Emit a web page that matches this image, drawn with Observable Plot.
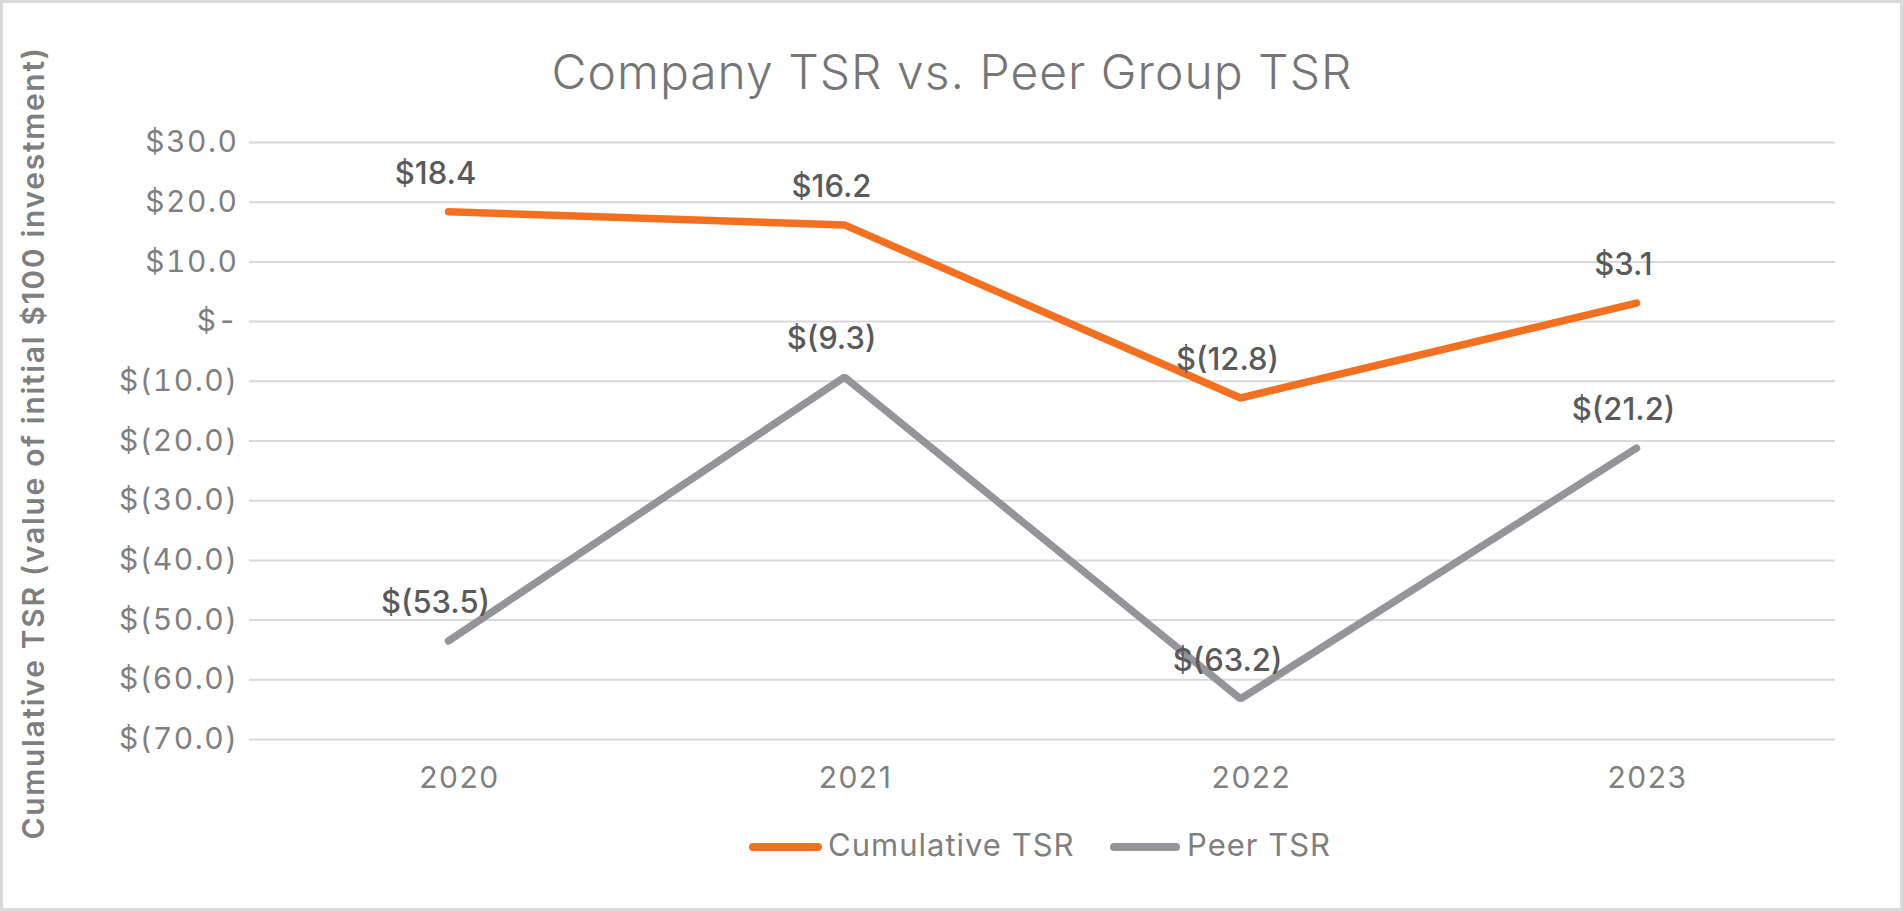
<!DOCTYPE html>
<html>
<head>
<meta charset="utf-8">
<script src="https://cdn.jsdelivr.net/npm/d3@7"></script>
<script src="https://cdn.jsdelivr.net/npm/@observablehq/plot@0.6"></script>
<style>
  html, body { margin: 0; padding: 0; background: #fff; overflow: hidden; }
  #chart svg { display: block; outline: 3px solid #dadada; outline-offset: -3px; }
  #chart svg g[aria-label="y-axis tick label"] { letter-spacing: 1.5px; }
  #chart svg g[aria-label="x-axis tick label"] { letter-spacing: 1.5px; }
  #chart svg g.title-text { letter-spacing: 1px; }
  #chart svg g.ytitle-text { letter-spacing: 1.7px; }
  #chart svg g.legend-text text { letter-spacing: 1px; }
</style>
</head>
<body>
<div id="chart"></div>
<script>
// ---- data ----
const years = ["2020", "2021", "2022", "2023"];
const cumulativeTSR = [18.4, 16.2, -12.8, 3.1];
const peerTSR = [-53.5, -9.3, -63.2, -21.2];
const seriesNames = ["Cumulative TSR", "Peer TSR"];
const seriesColors = ["#F37021", "#939598"];
const yTicks = [30, 20, 10, 0, -10, -20, -30, -40, -50, -60, -70];
const titleText = "Company TSR vs. Peer Group TSR";
const yTitleText = "Cumulative TSR (value of initial $100 investment)";

const data = years.flatMap((yr, i) => [
  {year: yr, series: seriesNames[0], value: cumulativeTSR[i]},
  {year: yr, series: seriesNames[1], value: peerTSR[i]}
]);

const fmt = v => v === 0 ? "$-" : v < 0 ? `$(${(-v).toFixed(1)})` : `$${v.toFixed(1)}`;

const W = 1903, H = 911;
const mL = 249, mR = 68, mT = 142, mB = 172;
const FONT = "Inter, 'Open Sans', sans-serif";

const chart = Plot.plot({
  width: W, height: H,
  marginLeft: mL, marginRight: mR, marginTop: mT, marginBottom: mB,
  style: {fontFamily: FONT, background: "#fff", color: "#808080"},
  x: {type: "point", domain: years, padding: 0.5, label: null},
  y: {domain: [-70, 30], label: null},
  color: {domain: seriesNames, range: seriesColors},
  marks: [
    Plot.gridY(yTicks, {stroke: "#d9d9d9", strokeOpacity: 1, strokeWidth: 2}),
    Plot.axisY(yTicks, {tickSize: 0, tickPadding: 11, tickFormat: fmt, fontSize: 30, fill: "#808080", label: null}),
    Plot.axisX({tickSize: 0, tickPadding: 27, fontSize: 30, fill: "#808080", dx: 11, label: null}),
    Plot.line(data, {x: "year", y: "value", z: "series", stroke: "series", strokeWidth: 7.5, strokeLinecap: "round", strokeLinejoin: "miter"}),
    Plot.text(data, {x: "year", y: "value", text: d => fmt(d.value), dx: -13, dy: -28, lineAnchor: "bottom", fontSize: 31, fontWeight: 500, fill: "#5a5a5a"}),
    Plot.text([titleText], {text: d => d, frameAnchor: "top", textAnchor: "middle", dx: W / 2 - (mL + (W - mL - mR) / 2), dy: 88 - mT, lineAnchor: "bottom", fontSize: 48, fontWeight: 300, fill: "#767676", className: "title-text"}),
    Plot.text([yTitleText], {text: d => d, frameAnchor: "left", textAnchor: "middle", rotate: -90, dx: 34 - mL, dy: 2, lineAnchor: "middle", fontSize: 30, fontWeight: 600, fill: "#7f7f7f", className: "ytitle-text"})
  ]
});

// legend (line swatches) appended to the same svg
const svg = d3.select(chart);
const legendItems = [
  {name: seriesNames[0], color: seriesColors[0], x0: 753, x1: 818, tx: 828},
  {name: seriesNames[1], color: seriesColors[1], x0: 1114, x1: 1176, tx: 1187}
];
const lg = svg.append("g").attr("class", "legend-text").attr("font-family", FONT).attr("text-anchor", "start");
for (const it of legendItems) {
  lg.append("line").attr("x1", it.x0).attr("x2", it.x1).attr("y1", 847).attr("y2", 847)
    .attr("stroke", it.color).attr("stroke-width", 8).attr("stroke-linecap", "round");
  lg.append("text").attr("x", it.tx).attr("y", 856).attr("font-size", 31).attr("fill", "#808080").text(it.name);
}

document.getElementById("chart").appendChild(chart);
</script>
</body>
</html>
